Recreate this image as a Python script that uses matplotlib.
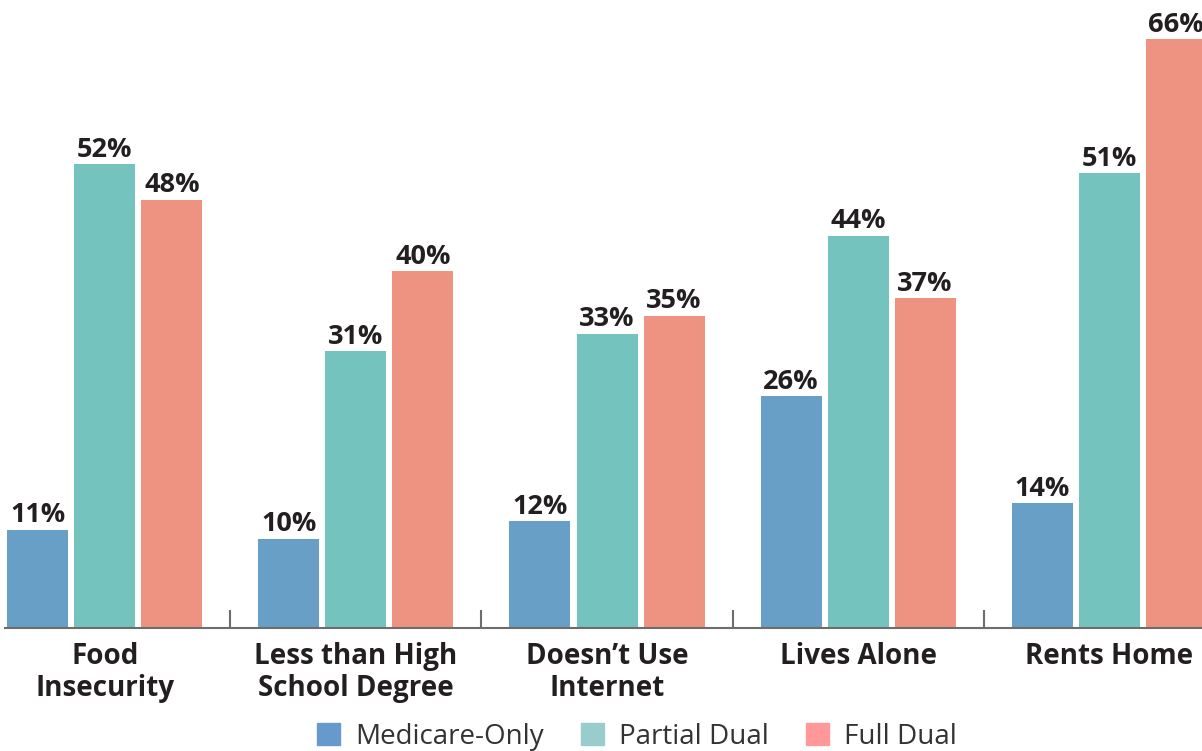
import numpy as np
import matplotlib.pyplot as plt
from matplotlib.patches import Patch

# data
categories = ["Food\nInsecurity", "Less than High\nSchool Degree", "Doesn\u2019t Use\nInternet",
              "Lives Alone", "Rents Home"]
series_names = ["Medicare-Only", "Partial Dual", "Full Dual"]
medicare_only = [11, 10, 12, 26, 14]
partial_dual = [52, 31, 33, 44, 51]
full_dual = [48, 40, 35, 37, 66]

bar_colors = ["#689FC7", "#74C3BF", "#EE9381"]
legend_colors = ["#6699CC", "#99CCCC", "#FF9999"]
text_color = "#231F20"

plt.rcParams['font.family'] = ['Open Sans', 'DejaVu Sans']

fig = plt.figure(figsize=(12.02, 7.51), dpi=100)
ax = fig.add_axes([5 / 1202, 123 / 751, 1197 / 1202, 628 / 751])

x = np.arange(len(categories))
width = 0.243
step = 0.267

for i, vals in enumerate([medicare_only, partial_dual, full_dual]):
    pos = x + (i - 1) * step
    bars = ax.bar(pos, vals, width=width, color=bar_colors[i], zorder=2)
    for b, v in zip(bars, vals):
        ax.annotate(f"{v}%", (b.get_x() + b.get_width() / 2, v),
                    xytext=(0, 1), textcoords="offset points",
                    ha="center", va="bottom", fontsize=19.5, fontweight="bold",
                    color=text_color)

ax.set_xlim(-0.398, 4.37)
ax.set_ylim(0, 70.4)

for s in ["top", "right", "left"]:
    ax.spines[s].set_visible(False)
ax.spines["bottom"].set_color("#6d6d6d")
ax.spines["bottom"].set_linewidth(1.5)
ax.set_yticks([])

ax.set_xticks(x)
ax.set_xticklabels(categories, fontsize=20, fontweight="bold", color=text_color,
                   linespacing=1.15)
ax.tick_params(axis="x", which="major", length=0, pad=10)
ax.set_xticks(x[:-1] + 0.5, minor=True)
ax.tick_params(axis="x", which="minor", direction="in", length=13, width=1.5,
               color="#6d6d6d")

handles = [Patch(color=c, label=n) for c, n in zip(legend_colors, series_names)]
fig.legend(handles=handles, loc="center", bbox_to_anchor=(637 / 1202, 1 - 737 / 751),
           ncol=3, frameon=False, fontsize=20, handlelength=0.83, handleheight=0.85,
           handletextpad=0.54, columnspacing=1.33, labelcolor="#333333",
           borderpad=0.1)

fig.savefig("out.png", dpi=100)
